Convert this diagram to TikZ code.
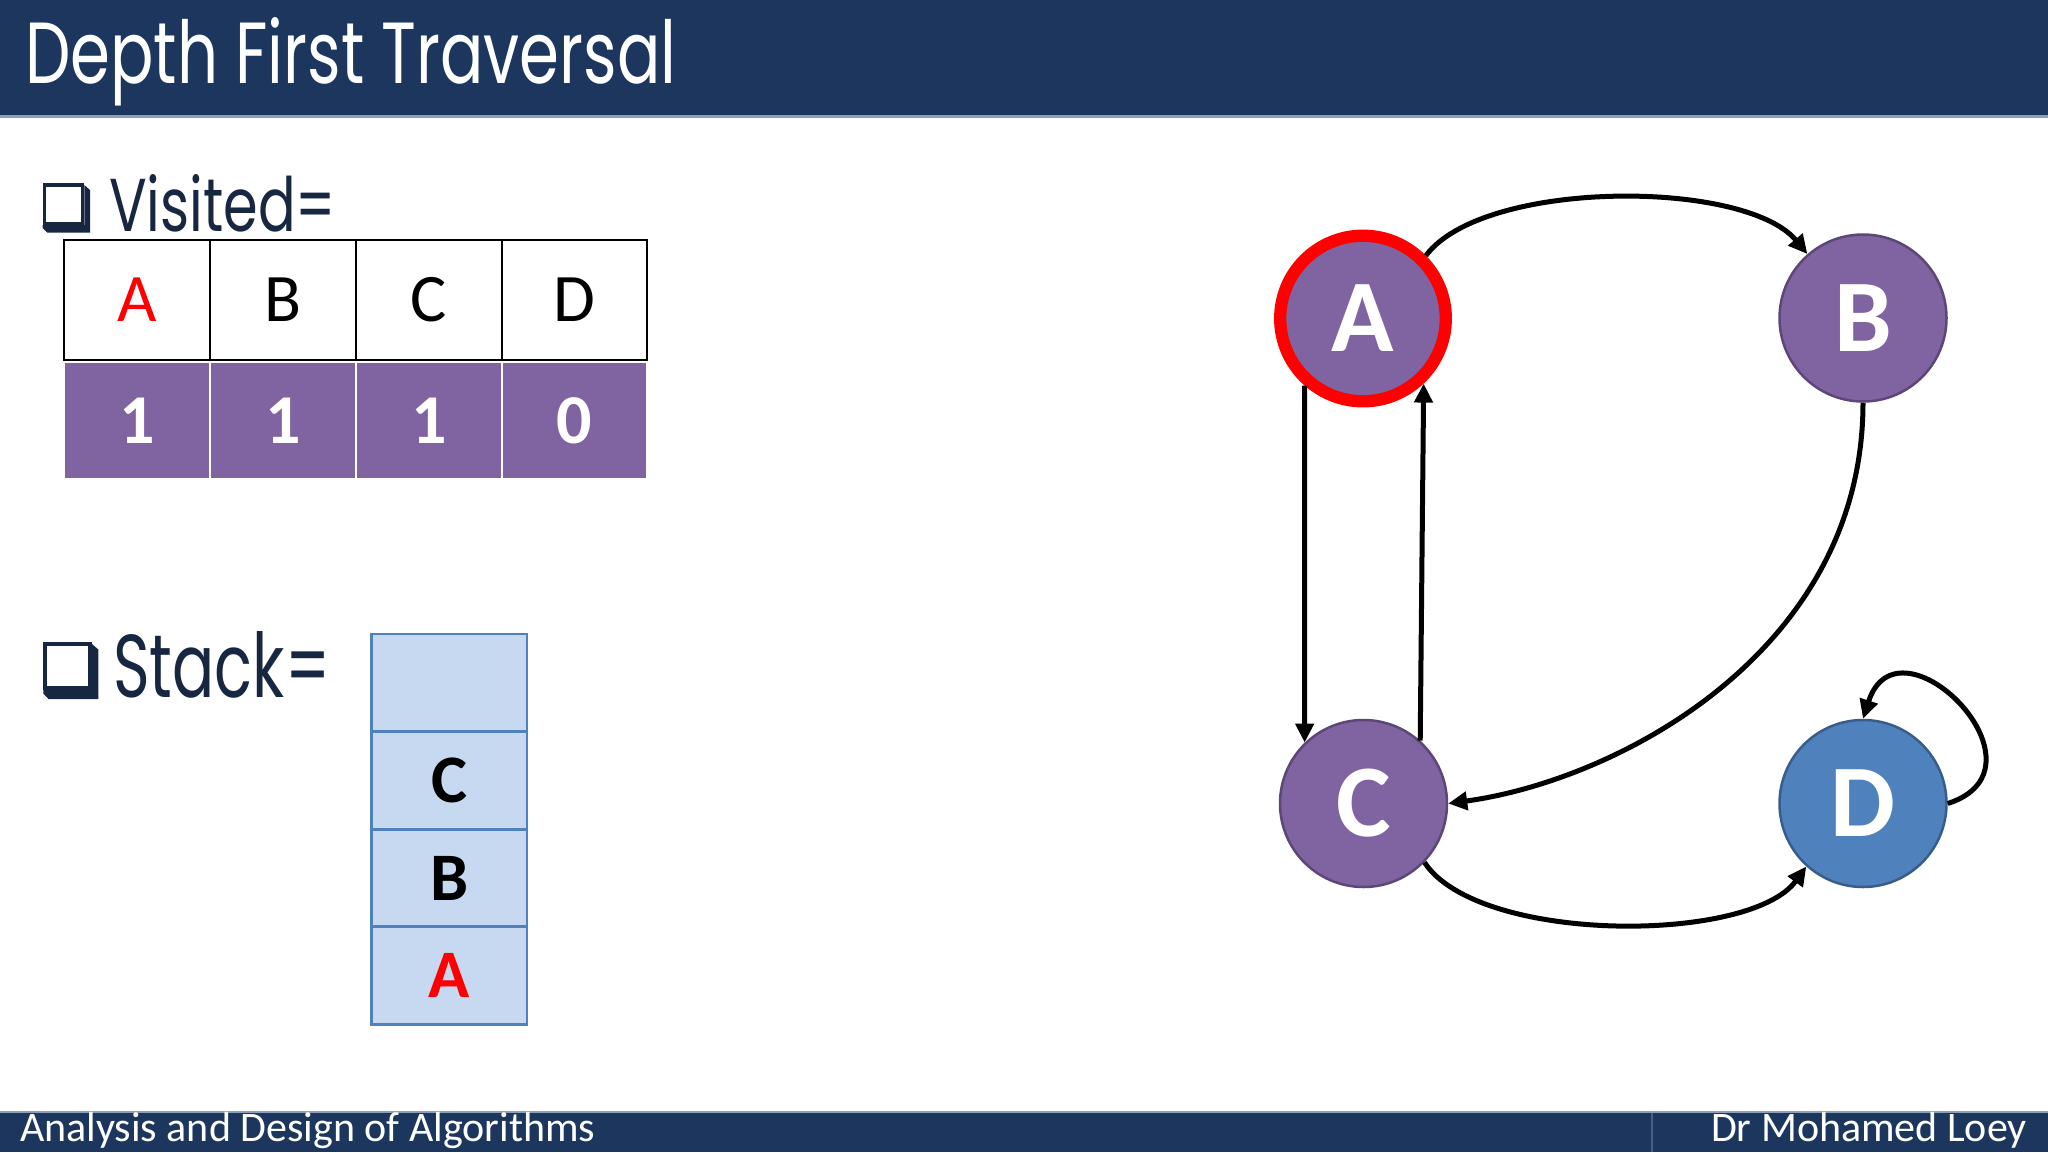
\documentclass[tikz,border=0pt]{standalone}
\usepackage{fontspec}
\usepackage{graphicx}
\usetikzlibrary{arrows.meta}
\newfontfamily\carlito{Carlito}
\newfontfamily\twcen{Poppins}
\definecolor{navy}{RGB}{28,54,94}
\definecolor{barline}{RGB}{140,160,190}
\definecolor{txtnavy}{RGB}{23,39,66}
\definecolor{vpurple}{RGB}{128,100,162}
\definecolor{vpurpleedge}{RGB}{92,71,118}
\definecolor{dblue}{RGB}{79,129,189}
\definecolor{dblueedge}{RGB}{56,93,138}
\definecolor{stackfill}{RGB}{198,217,241}
\definecolor{stackedge}{RGB}{79,129,189}
\definecolor{sepline}{RGB}{70,95,130}
\newcommand\chkbox[3]{%
  \begin{scope}[shift={(#1,#2)}, scale=#3]
    \fill[txtnavy] (0,0) rectangle (41.6,41.7);
    \fill[txtnavy] (41.6,1.7) -- (47.3,6.7) -- (47.3,49.4) -- (4.6,49.4) -- (0,44.7) -- (0,41.7) -- (41.6,41.7) -- cycle;
    \fill[white] (3.3,3.3) rectangle (38.3,38.4);
  \end{scope}}
\begin{document}
\begin{tikzpicture}[x=1pt,y=-1pt,
  hcell/.style={draw=black, line width=2pt, minimum width=146pt, minimum height=120pt, inner sep=0pt, font=\carlito\fontsize{68pt}{72pt}\selectfont},
  vcell/.style={fill=vpurple, minimum width=143.5pt, minimum height=115.5pt, inner sep=0pt, text=white, font=\carlito\bfseries\fontsize{70pt}{74pt}\selectfont},
  scell/.style={draw=stackedge, fill=stackfill, line width=2.5pt, minimum width=155.5pt, minimum height=97.6pt, inner sep=0pt, font=\carlito\bfseries\fontsize{68pt}{72pt}\selectfont},
  gnode/.style={circle, inner sep=0pt, minimum size=167pt, fill=vpurple, draw=vpurpleedge, line width=2.5pt, text=white, font=\carlito\bfseries\fontsize{103pt}{110pt}\selectfont},
  visitednode/.style={draw=red, line width=12.3pt, minimum size=165.6pt},
  bluenode/.style={fill=dblue, draw=dblueedge},
  gedge/.style={line width=5pt, -{Triangle[length=19pt,width=18pt]}},
  lbl/.style={anchor=base west, inner sep=0pt},
  foottext/.style={inner sep=0pt, text=white, font=\carlito\fontsize{42pt}{46pt}\selectfont}
]
\useasboundingbox (0,0) rectangle (2048,1152);
\fill[white] (0,0) rectangle (2048,1152);
% title bar
\fill[navy] (0,0) rectangle (2048,115);
\fill[barline] (0,115) rectangle (2048,117.5);
\node[lbl, text=white] (title) at (25,83) {\resizebox{651pt}{66pt}{\twcen Depth First Traversal}};
% footer
\fill[barline] (0,1110.5) rectangle (2048,1112.5);
\fill[navy] (0,1112.5) rectangle (2048,1152);
\draw[sepline, line width=2pt] (1652,1112.5) -- (1652,1152);
\node[foottext, anchor=base west] (foot1) at (20,1141) {Analysis and Design of Algorithms};
\node[foottext, anchor=base east] (foot2) at (2027,1141) {Dr Mohamed Loey};
% labels
\chkbox{42.7}{183.3}{1}
\node[lbl, text=txtnavy] (vis) at (109,231.7) {\resizebox{227pt}{57pt}{\twcen Visited=}};
\chkbox{43.3}{641.7}{1.163}
\node[lbl, text=txtnavy] (stk) at (113,697) {\resizebox{217pt}{66pt}{\twcen Stack=}};
% visited table
\node[hcell, text=red] (hA) at (137,300) {A};
\node[hcell] (hB) at (283,300) {B};
\node[hcell] (hC) at (429,300) {C};
\node[hcell, minimum width=145pt] (hD) at (574.5,300) {D};
\node[vcell] (vA) at (137.2,420.7) {1};
\node[vcell] (vB) at (283.2,420.7) {1};
\node[vcell] (vC) at (429.2,420.7) {1};
\node[vcell, minimum width=142.5pt] (vD) at (574.5,420.7) {0};
% stack
\node[scell] (s0) at (449.25,682.85) {};
\node[scell] (s1) at (449.25,780.5) {C};
\node[scell] (s2) at (449.25,878.05) {B};
\node[scell, text=red] (s3) at (449.25,975.5) {A};
% graph
\node[gnode, visitednode] (A) at (1363,318.5) {A};
\node[gnode] (B) at (1863,318) {B};
\node[gnode] (C) at (1363.5,803.5) {C};
\node[gnode, bluenode] (D) at (1863,803.5) {D};
\draw[gedge] (A.45) .. controls (1483,179) and (1745,179) .. (B.131);
\draw[gedge] (A.229) -- (C.134);
\draw[gedge] (C.48) -- (A.313);
\draw[gedge] (B.270) .. controls (1863,650) and (1620,780) .. (C.0);
\draw[gedge] (C.316) .. controls (1478,944) and (1750,944) .. (D.228);
\draw[gedge] (D.0) .. controls (2058,768) and (1898.5,608.6) .. (D.90);
\end{tikzpicture}
\end{document}
